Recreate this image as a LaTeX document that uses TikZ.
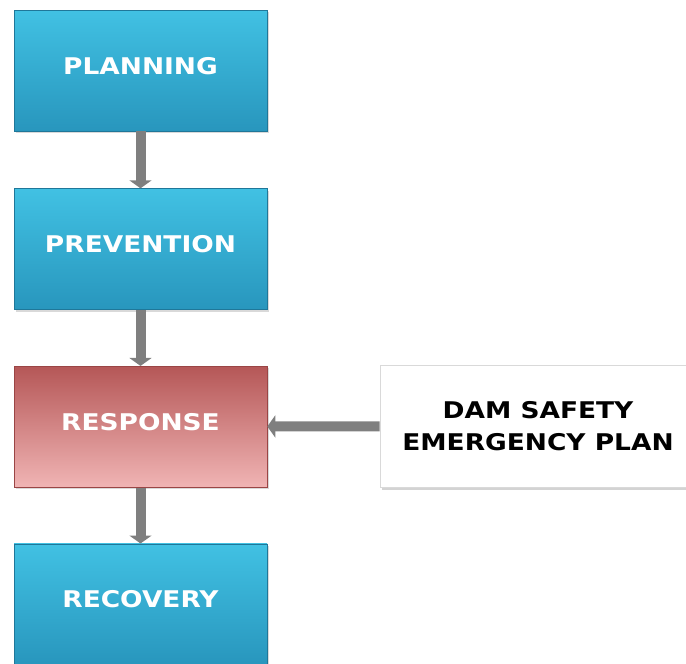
\documentclass[tikz,border=0pt]{standalone}
\usepackage{fontspec}
\setmainfont{DejaVu Sans}[FakeStretch=1.15]
\usetikzlibrary{positioning,arrows.meta,shadows}

\definecolor{bluetop}{HTML}{41C1E3}
\definecolor{bluebot}{HTML}{2896BD}
\definecolor{blueedge}{HTML}{1F7799}
\definecolor{redtop}{HTML}{B55757}
\definecolor{redbot}{HTML}{F0B4B4}
\definecolor{rededge}{HTML}{9A4545}
\definecolor{linkgray}{HTML}{7F7F7F}

\begin{document}
\begin{tikzpicture}[x=1pt, y=1pt,
  phase/.style={minimum width=253pt, minimum height=121pt, inner sep=0pt,
    top color=bluetop, bottom color=bluebot, draw=blueedge, line width=0.6pt,
    drop shadow={opacity=0.3, shadow xshift=1.5pt, shadow yshift=-2pt},
    text height=17pt, text depth=10pt,
    text=white, font=\fontsize{23}{31}\selectfont\bfseries},
  hot/.style={phase, top color=redtop, bottom color=redbot, draw=rededge},
  planbox/.style={minimum width=316pt, minimum height=122pt, inner sep=0pt,
    fill=white, draw=black!15, line width=0.6pt, align=center,
    drop shadow={opacity=0.35, shadow xshift=1.5pt, shadow yshift=-2.5pt},
    font=\fontsize{23}{32}\selectfont\bfseries},
  link/.style={draw=linkgray, line width=10pt, -{Triangle[width=22pt, length=8pt]}}]
\useasboundingbox (0,0) rectangle (686,-664);

% the four phases
\node[phase] (planning) at (140.5,-70.5) {PLANNING};
\node[phase, below=57pt of planning] (prevention) {PREVENTION};
\node[hot, below=56pt of prevention] (response) {RESPONSE};
\node[phase, below=56pt of response] (recovery) {RECOVERY};

% the plan that feeds the response
\node[planbox] (plan) at (538,-426) {DAM SAFETY\\EMERGENCY PLAN};

\draw[link] (planning) -- (prevention);
\draw[link] (prevention) -- (response);
\draw[link] (response) -- (recovery);
\draw[link] (plan) -- (response);
\end{tikzpicture}
\end{document}
